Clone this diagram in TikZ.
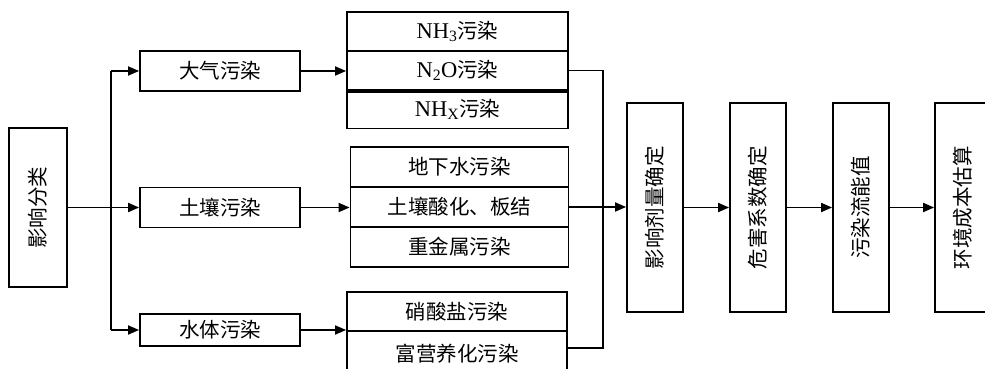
\documentclass[tikz,border=0pt]{standalone}
\usepackage{fontspec}
\usepackage{graphicx}
\setmainfont{Liberation Serif}
\newfontfamily\cjk{Noto Sans CJK SC}
\usetikzlibrary{arrows.meta}

\newcommand\lat[1]{{\rmfamily\fontsize{22.5}{26}\selectfont #1}}

\tikzset{
  kuang/.style={draw, line width=1.8pt, inner sep=0pt, font=\cjk\fontsize{20.5}{24}\selectfont},
  lei/.style={kuang, minimum width=160pt, minimum height=40pt},
  hang/.style={kuang, minimum width=221pt},
  shu/.style={kuang, minimum width=56pt, minimum height=209pt},
  xian/.style={line width=1.8pt},
  jian/.style={xian, -{Triangle[length=11pt,width=9pt]}},
}

\begin{document}
\begin{tikzpicture}[x=1pt, y=-1pt]
\useasboundingbox (0,0) rectangle (985,369);
%
\node [kuang, minimum width=58pt, minimum height=159pt] (fenlei) at (38,207.5) {\rotatebox{90}{影响分类}};
%
\node [lei] (daqi) at (220,71) {大气污染};
\node [lei] (turang) at (220,207.5) {土壤污染};
\node [lei, minimum height=32pt] (shuiti) at (220,330) {水体污染};
%
\node [hang, minimum height=39pt] (nh3) at (457.5,31.5) {\lat{NH\textsubscript{3}}污染};
\node [hang, minimum height=39pt] (n2o) at (457.5,70.5) {\lat{N\textsubscript{2}O}污染};
\node [hang, minimum height=38pt] (nhx) at (457.5,109.5) {\lat{NH\textsubscript{X}}污染};
\draw [line width=3.5pt] (n2o.south west) -- (n2o.south east);
%
\node [hang, minimum width=218pt, minimum height=40pt] (dixia) at (459.5,167) {地下水污染};
\node [hang, minimum width=218pt, minimum height=40pt] (suanhua) at (459.5,207) {土壤酸化、板结};
\node [hang, minimum width=218pt, minimum height=40pt] (zhongjin) at (459.5,247) {重金属污染};
%
\node [hang, minimum width=220pt, minimum height=39pt] (xiaosuan) at (457,311.5) {硝酸盐污染};
\node [hang, minimum width=220pt, minimum height=45pt] (fuying) at (457,353.5) {富营养化污染};
%
\node [shu] (jiliang) at (655,207.5) {\rotatebox{90}{影响剂量确定}};
\node [shu] (weihai) at (758,207.5) {\rotatebox{90}{危害系数确定}};
\node [shu] (nengzhi) at (861,207.5) {\rotatebox{90}{污染流能值}};
\node [shu] (chengben) at (963,207.5) {\rotatebox{90}{环境成本估算}};
%
\coordinate (zhuA) at (111,71);
\coordinate (zhuB) at (111,330);
\draw [xian] (zhuA) -- (zhuB);
\draw [jian] (zhuA) -- (daqi.west);
\draw [jian] (fenlei.east) -- (turang.west);
\draw [jian] (zhuB) -- (shuiti.west);
%
\draw [jian] (daqi.east) -- (daqi.east -| n2o.west);
\draw [jian] (turang.east) -- (turang.east -| suanhua.west);
\draw [jian] (shuiti.east) -- (shuiti.east -| xiaosuan.west);
%
\coordinate (huiA) at (603,70.5);
\coordinate (huiB) at (603,348);
\draw [xian] (n2o.east) -- (huiA) -- (huiB) -- (huiB -| fuying.east);
\draw [jian] (suanhua.east) -- (suanhua.east -| jiliang.west);
%
\draw [jian] (jiliang.east) -- (weihai.west);
\draw [jian] (weihai.east) -- (nengzhi.west);
\draw [jian] (nengzhi.east) -- (chengben.west);
%%%%%%%%%%%%%%%%%%%%%%%%%%%%%%%
\end{tikzpicture}
\end{document}
